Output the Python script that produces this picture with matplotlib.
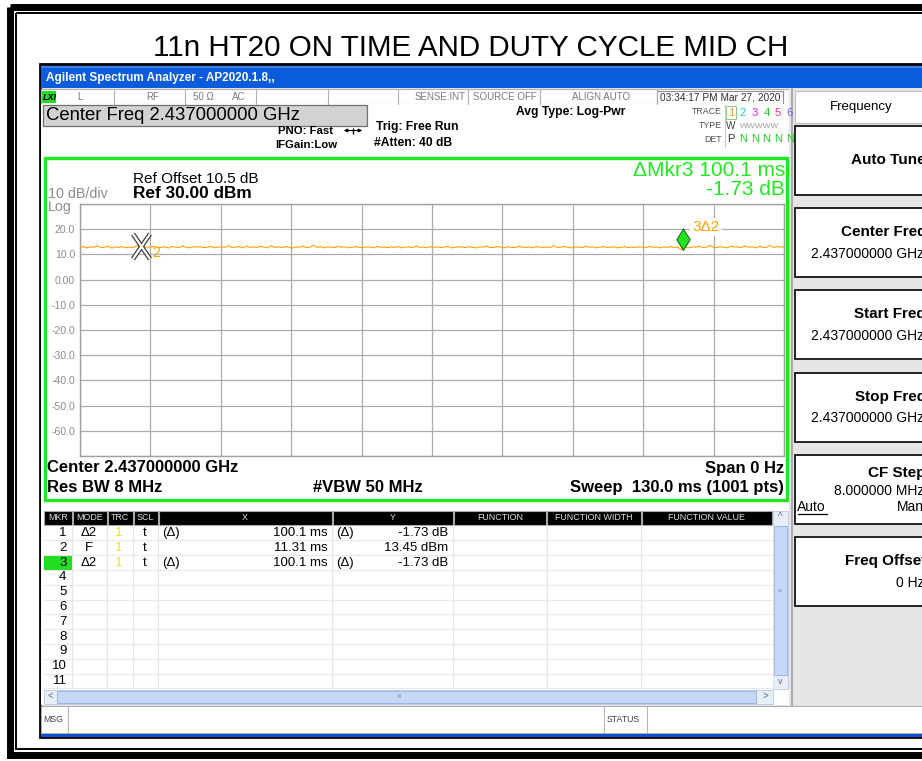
import numpy as np
import matplotlib
matplotlib.use("Agg")
import matplotlib.pyplot as plt
from matplotlib.patches import Rectangle
from matplotlib.path import Path

plt.rcParams['font.family'] = ['Liberation Sans', 'DejaVu Sans']

# ---- datos ----
sweep_ms = 130.0
trace_dbm = [
    12.8, 13.1, 12.6, 13.0, 12.9, 13.3, 12.7, 12.9, 13.2, 12.5,
    13.0, 12.8, 13.1, 12.6, 12.9, 12.7, 13.4, 13.4, 12.6, 13.0,
    12.9, 13.2, 12.7, 12.8, 13.0, 12.5, 13.1, 12.9, 12.7, 13.3,
    12.8, 12.6, 13.0, 12.9, 13.1, 12.7, 12.8, 13.2, 12.6, 12.9,
    13.0, 12.8, 13.5, 12.7, 12.9, 13.1, 12.6, 13.3, 12.8, 13.0,
    12.7, 13.2, 12.9, 12.6, 13.4, 12.8, 13.0, 12.7, 13.1, 12.9,
    12.5, 13.0, 12.8, 13.3, 12.7, 12.9, 13.6, 12.8, 13.1, 12.6,
    13.0, 12.9, 12.7, 13.2, 12.8, 13.0, 12.6, 12.9, 13.1, 12.8,
    12.7, 13.0, 12.9, 12.6, 13.2, 12.8, 12.9, 12.7, 13.0, 12.8,
    13.1, 12.6, 12.9, 13.0, 12.7, 13.3, 12.8, 12.9, 12.6, 13.1,
    12.8, 13.0, 12.7, 12.9, 13.2, 12.6, 12.8, 13.0, 12.9, 12.7,
    13.1, 12.8, 12.6, 13.0, 12.9, 13.3, 12.7, 12.8, 13.1, 12.9,
    12.6, 13.0, 12.8, 12.7, 13.2, 12.9, 12.8, 13.0, 12.6, 13.1,
    12.9, 12.7, 13.0, 12.8, 13.4, 12.7, 12.9, 13.1, 12.8, 12.6,
    13.0, 12.9, 12.7, 13.2, 12.8, 13.0, 12.6, 12.9, 13.1, 12.7,
    12.9, 13.0, 12.6, 12.8, 13.1, 12.7, 12.9, 12.8, 13.0, 12.9,
    12.7, 13.2, 12.8, 12.9, 12.6, 13.0, 12.8, 13.1, 12.7, 12.9,
    11.8, 12.8, 12.6, 13.0, 12.9, 13.2, 12.7, 12.8, 13.5, 12.9,
    12.7, 13.1, 12.8, 12.6, 13.3, 12.9, 13.0, 12.7, 13.4, 12.8,
    13.0, 12.6, 13.2, 12.9, 12.7, 13.5, 12.8, 13.1, 12.9, 13.0,
]
mkr2_ms = 11.31
mkr2_dbm = 13.45
mkr3_dx_ms = 100.1
mkr3_dy_db = -1.73

ytick_vals = [30, 20, 10, 0, -10, -20, -30, -40, -50, -60, -70]
ytick_labels = ['', '20.0', '10.0', '0.00', '-10.0', '-20.0', '-30.0',
                '-40.0', '-50.0', '-60.0', '']

table_x = ['100.1 ms', '11.31 ms', '100.1 ms']
table_y = ['-1.73 dB', '13.45 dBm', '-1.73 dB']
table_mode = ['Δ2', 'F', 'Δ2']

ORANGE = '#FFA000'
GREEN = '#22E622'
GRAY = '#8C8C8C'

fig = plt.figure(figsize=(9.22, 7.61), dpi=100)
ui = fig.add_axes([0, 0, 1, 1])
ui.set_xlim(0, 922)
ui.set_ylim(761, 0)
ui.axis('off')


def box(x0, y0, x1, y1, fc='none', ec='none', lw=1.0, z=1):
    ui.add_patch(Rectangle((x0, y0), x1 - x0, y1 - y0, facecolor=fc,
                           edgecolor=ec, linewidth=lw, zorder=z))


def txt(x, y, s, size=9, color='black', ha='left', weight='normal', z=5, **kw):
    ui.text(x, y, s, fontsize=size, color=color, ha=ha, va='center',
            fontweight=weight, zorder=z, **kw)


# marco doble exterior
box(10, 6.5, 945, 755, ec='black', lw=5)
box(16, 13, 940, 749, ec='black', lw=1.4)

txt(471, 48, '11n HT20 ON TIME AND DUTY CYCLE MID CH', size=21.3, ha='center')

# ventana del analizador
box(40, 64, 930, 737, fc='#E4E4E4', ec='black', lw=2)
box(41, 65.5, 930, 88, fc='#0B5BDD')
box(41, 65.5, 930, 68, fc='#3D7FEA')
txt(46, 77.5, 'Agilent Spectrum Analyzer - AP2020.1.8,,', size=8.5,
    color='white', weight='bold')

# fila de estado
box(41, 89, 789, 104, fc='white', ec='#B0B0B0', lw=0.8)
box(42, 91, 56, 103, fc='#22DD22')
txt(43, 97, 'LXI', size=6.5, weight='bold', style='italic')
for xs in [114, 185, 256, 328, 398, 468, 540, 657]:
    ui.plot([xs, xs], [90, 103.5], color='#B0B0B0', lw=0.8, zorder=2)
for x, s in [(77, 'L'), (146, 'RF'), (193, '50 Ω'), (232, 'AC'),
             (415, 'SENSE:INT'), (473, 'SOURCE OFF'), (572, 'ALIGN AUTO')]:
    txt(x, 97, s, size=7, color='#7A7A7A')
box(657, 90.5, 783, 103.5, fc='white', ec='#909090', lw=0.8)
txt(660, 97, '03:34:17 PM Mar 27, 2020', size=7.3, color='#303030')

# panel principal
box(41, 104, 789, 705, fc='white')
box(43, 105, 367, 125.5, fc='#D2D2D2', ec='#707070', lw=0.9)
txt(46, 115.5, 'Center Freq 2.437000000 GHz', size=13.3)
txt(278, 131, 'PNO: Fast', size=8.2, weight='bold')
ui.annotate('', xy=(341, 130.5), xytext=(365, 130.5),
            arrowprops=dict(arrowstyle='<|-|>', color='black', lw=0.8,
                            mutation_scale=5))
ui.plot([353], [130.5], marker='|', color='black', ms=4, zorder=6)
txt(275, 145, 'IFGain:Low', size=8.2, weight='bold')
txt(376, 127, 'Trig: Free Run', size=8.7, weight='bold')
txt(374, 143, '#Atten: 40 dB', size=8.7, weight='bold')
txt(516, 112, 'Avg Type: Log-Pwr', size=8.7, weight='bold')
txt(722, 112, 'TRACE', size=6.3, color='#505050', ha='right')
txt(722, 126, 'TYPE', size=6.3, color='#505050', ha='right')
txt(722, 139.5, 'DET', size=6.3, color='#505050', ha='right')
ui.plot([724.5, 724.5], [105, 147], color='#C8C8C8', lw=0.8)
box(726, 106, 736, 119, ec='#7FD07F', lw=0.7)
trace_cols = [ORANGE, '#18C8F0', '#F020F0', '#22CC22', '#FF3070', '#8050F0']
for i, c in enumerate(trace_cols):
    txt(731 + 11.8 * i, 113, str(i + 1), size=8.2, color=c, ha='center')
txt(726, 126, 'W', size=7.2, color='#404040')
txt(740, 126, 'WWWWW', size=6.0, color='#A0A0A0')
txt(727, 139.5, 'P', size=8, color='#303030')
for i in range(5):
    txt(743 + 11.8 * i, 139.5, 'N', size=8, color='#22CC22', ha='center')

# recuadro verde del grafico
box(44.5, 157.5, 787, 499.5, ec=GREEN, lw=2.4, z=3)
txt(133, 179, 'Ref Offset 10.5 dB', size=11)
txt(133, 194, 'Ref 30.00 dBm', size=12.4, weight='bold')
txt(48, 194, '10 dB/div', size=10.3, color=GRAY)
txt(48, 207.5, 'Log', size=10.3, color=GRAY)
txt(785, 170, 'ΔMkr3 100.1 ms', size=15, color=GREEN, ha='right')
txt(785, 189.5, '-1.73 dB', size=15, color=GREEN, ha='right')
txt(47, 468, 'Center 2.437000000 GHz', size=12, weight='bold')
txt(47, 487.5, 'Res BW 8 MHz', size=12, weight='bold')
txt(313, 487.5, '#VBW 50 MHz', size=12, weight='bold')
txt(784, 468, 'Span 0 Hz', size=12, weight='bold', ha='right')
txt(784, 487.5, 'Sweep  130.0 ms (1001 pts)', size=12, weight='bold', ha='right')

# tabla de marcadores
cols = [(44, 71.5, 'MKR'), (72.5, 106.5, 'MODE'), (107.5, 132.5, 'TRC'),
        (133.5, 157.5, 'SCL'), (158.5, 331.5, 'X'), (332.5, 452.5, 'Y'),
        (453.5, 546, 'FUNCTION'), (547, 640.5, 'FUNCTION WIDTH'),
        (641.5, 772, 'FUNCTION VALUE')]
for x0, x1, name in cols:
    box(x0, 510.5, x1, 524.5, fc='black', ec='#A8A8A8', lw=0.8)
    txt((x0 + x1) / 2, 517.5, name, size=6.4, color='#E0E0E0', ha='center')
    ui.plot([x1 + 0.5, x1 + 0.5], [525, 689], color='#E4E4E4', lw=0.8, zorder=2)
row_h = 14.8
for r in range(11):
    yc = 533 + row_h * r
    ui.plot([44, 772], [yc + row_h / 2, yc + row_h / 2], color='#E8E8E8',
            lw=0.8, zorder=2)
    if r == 2:
        box(44, yc - 7, 71.5, yc + 7, fc='#22DD22', z=3)
    txt(66.5, yc, str(r + 1), size=9.5, ha='right')
for r in range(3):
    yc = 533 + row_h * r
    txt(89, yc, table_mode[r], size=9.5, ha='center')
    txt(119, yc, '1', size=9.5, ha='center', color='#EEDD22')
    txt(145, yc, 't', size=9.5, ha='center')
    if table_mode[r] != 'F':
        txt(162, yc, '(Δ)', size=9.5)
        txt(336, yc, '(Δ)', size=9.5)
    txt(328, yc, table_x[r], size=9.5, ha='right')
    txt(448.5, yc, table_y[r], size=9.5, ha='right')

# barras de desplazamiento
box(772.5, 510.5, 788, 689, fc='#E8EEF8', ec='#B8C8E0', lw=0.6)
box(774, 526, 786.5, 675, fc='#C6D8F6', ec='#9AB6E6', lw=0.7)
txt(780, 517.5, '^', size=7, color='#5070A0', ha='center')
txt(780, 682, 'v', size=6.5, color='#5070A0', ha='center')
box(44, 689.5, 772.5, 703.5, fc='#E8EEF8', ec='#B8C8E0', lw=0.6)
box(57, 690.5, 756, 702.5, fc='#C6D8F6', ec='#9AB6E6', lw=0.7)
txt(50, 696, '<', size=7, color='#5070A0', ha='center')
txt(765, 696, '>', size=7, color='#5070A0', ha='center')
txt(400, 696, 'III', size=4, color='#8098C0', ha='center')
txt(780, 592, '≡', size=5, color='#8098C0', ha='center')

# barra de mensajes
box(41, 706, 930, 733, fc='white', ec='#B0B0B0', lw=0.8)
ui.plot([68, 68], [707, 732], color='#B8B8B8', lw=0.8)
ui.plot([604, 604], [707, 732], color='#B8B8B8', lw=0.8)
ui.plot([647, 647], [707, 732], color='#B8B8B8', lw=0.8)
txt(43.5, 719.5, 'MSG', size=6.3, color='#404040')
txt(606.5, 719.5, 'STATUS', size=6.3, color='#404040')
box(41, 733.5, 930, 736.5, fc='#0B4FD4')

# teclas laterales
box(789, 89, 930, 705, fc='#E6E6E6')
ui.plot([792, 792], [89, 705], color='#A0A0A0', lw=1.2)
box(795, 91, 930, 123, fc='white', ec='#C0C0C0', lw=0.8)
txt(861, 107, 'Frequency', size=9.5, ha='center')
keys = [(126, 'Auto Tune', None), (208, 'Center Freq', '2.437000000 GHz'),
        (290, 'Start Freq', '2.437000000 GHz'),
        (372.5, 'Stop Freq', '2.437000000 GHz'),
        (455, 'CF Step', '8.000000 MHz'), (537, 'Freq Offset', '0 Hz')]
for y0, label, val in keys:
    box(795, y0, 935, y0 + 69, fc='white', ec='black', lw=1.2)
    if val is None:
        txt(926, y0 + 34, label, size=11, weight='bold', ha='right')
    elif label == 'CF Step':
        txt(925, y0 + 18, label, size=11, weight='bold', ha='right')
        txt(924, y0 + 36, val, size=10, ha='right')
        txt(797, y0 + 52, 'Auto', size=10)
        ui.plot([798, 827], [y0 + 59, y0 + 59], color='black', lw=0.9, zorder=5)
        txt(897, y0 + 52, 'Man', size=10)
    else:
        txt(926, y0 + 24, label, size=11, weight='bold', ha='right')
        txt(924, y0 + 46, val, size=10, ha='right')

# grafico de la traza
ax = fig.add_axes([80 / 922, 1 - 456 / 761, 704 / 922, 252 / 761])
ax.set_zorder(10)
t = np.linspace(0, sweep_ms, len(trace_dbm))
ax.plot(t, trace_dbm, color=ORANGE, lw=0.8, zorder=3)
ax.set_xlim(0, sweep_ms)
ax.set_ylim(-70, 30)
ax.set_xticks(np.linspace(0, sweep_ms, 11))
ax.set_xticklabels([])
ax.set_yticks(ytick_vals)
ax.set_yticklabels(ytick_labels)
ax.tick_params(length=0, pad=3.6, labelsize=7.6, labelcolor=GRAY)
ax.grid(color='#ABABAB', lw=0.9)
for sp in ax.spines.values():
    sp.set_color('#A0A0A0')
    sp.set_linewidth(1.0)

# marcador 2 (fijo, X)
xmark = Path([(-0.34, -0.5), (0.34, 0.5), (-0.34, 0.5), (0.34, -0.5)],
             [Path.MOVETO, Path.LINETO, Path.MOVETO, Path.LINETO])
ax.plot([mkr2_ms], [mkr2_dbm], marker=xmark, ms=18, mew=3.4, color='#404040',
        zorder=5)
ax.plot([mkr2_ms], [mkr2_dbm], marker=xmark, ms=18, mew=1.6, color='white',
        zorder=6)
ax.annotate('2', (mkr2_ms, mkr2_dbm), xytext=(8, -5), textcoords='offset points',
            color=ORANGE, fontsize=10, va='center', ha='left', zorder=7)

# marcador 3 (delta, rombo)
mkr3_ms = mkr2_ms + mkr3_dx_ms
mkr3_dbm = mkr2_dbm + mkr3_dy_db
diamond = Path([(0, 0), (0.62, 1), (0, 2), (-0.62, 1), (0, 0)],
               [Path.MOVETO, Path.LINETO, Path.LINETO, Path.LINETO, Path.CLOSEPOLY])
ax.plot([mkr3_ms], [mkr3_dbm], marker=diamond, ms=31, color='#22E022',
        mec='#1A5A1A', mew=0.7, zorder=6)
ax.annotate('3Δ2', (mkr3_ms, mkr3_dbm), xytext=(6.5, 16.5),
            textcoords='offset points', color=ORANGE, fontsize=11, va='center',
            ha='left', zorder=7,
            bbox=dict(boxstyle='square,pad=0.15', fc='white', ec='none'))

fig.savefig('out.png', dpi=100)
